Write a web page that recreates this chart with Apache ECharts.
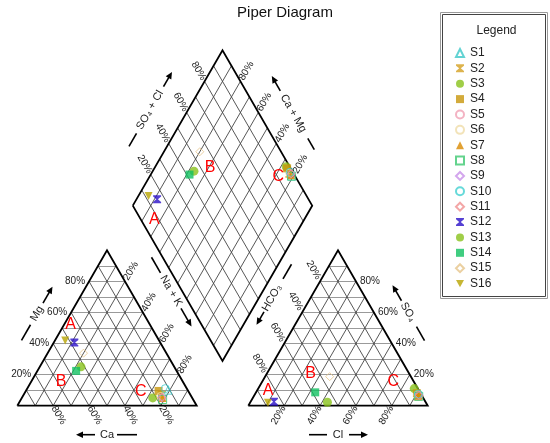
<!DOCTYPE html>
<html><head><meta charset="utf-8">
<script src="https://cdn.jsdelivr.net/npm/echarts@6/dist/echarts.min.js"></script>
<style>html,body{margin:0;padding:0;background:#fff}#c{width:550px;height:443px}</style>
</head><body><div id="c"></div>
<script>
// ---------------- data (percent of meq) ----------------
const samples = ['S1','S2','S3','S4','S5','S6','S7','S8','S9','S10','S11','S12','S13','S14','S15','S16'];
const caPct   = [11, 16, 22, 16.5, 17, 17, 16.5, 17, 16.5, 12, 17, 47.9, 52, 56, 46.2, 52.3];
const mgPct   = [10, 7, 5, 9.5, 5, 6, 5, 4, 5.5, 11, 5, 40.6, 25, 22.4, 33.8, 42];
const naKPct  = [79, 77, 73, 74, 78, 77, 78.5, 79, 78, 77, 78, 11.5, 23, 21.6, 20, 5.7];
const hco3Pct = [2, 2.5, 2, 2, 2, 2, 2, 2, 1.5, 1.5, 1.5, 84.4, 54.8, 58.4, 45.3, 88.1];
const clPct   = [91, 91.5, 87, 90, 92, 91, 91.5, 92, 91.5, 91, 92, 13, 43, 33, 36, 10];
const so4Pct  = [7, 6, 11, 8, 6, 7, 6.5, 6, 7, 7.5, 6.5, 2.6, 2.2, 8.6, 18.7, 1.9];
const tickPct = [20, 40, 60, 80];
const tickLabels = ['20%', '40%', '60%', '80%'];

// ---------------- styles ----------------
const HG = 'path://M0,0 L10,0 L10,1.6 L6,5 L10,8.4 L10,10 L0,10 L0,8.4 L4,5 L0,1.6 Z';
const DTRI = 'path://M0,0 L10,0 L5,9 Z';
const symbolOf = ['triangle', HG, 'circle', 'rect', 'circle', 'circle', 'triangle', 'rect', 'diamond', 'circle', 'diamond', HG, 'circle', 'rect', 'diamond', DTRI];
const colorOf = ['#3cc8c8', '#d4a020', '#88c21a', '#c8960a', '#f0a0b4', '#efdca8', '#d98a00', '#3cc870', '#c890e8', '#40d0d0', '#f09090', '#2a10c8', '#88c21a', '#10c060', '#e6c48a', '#b8a400'];
const hollowOf = [true, false, false, false, true, true, false, true, true, true, true, false, false, false, true, false];

// ---------------- geometry (layout) ----------------
const LX = 17.3, LY = 405.7, S = 179.4, H = S * Math.sqrt(3) / 2, RX = 248.3;
const BX = (LX + S + RX) / 2, BY = LY - (RX - LX - S) / 2 * Math.sqrt(3);
const DL = [BX - S / 2, BY - H], DT = [BX, BY - 2 * H], DR = [BX + S / 2, BY - H], DB = [BX, BY];
const U = [S / 2, -H], V = [S / 2, H];

function cat(mg, na) { return [LX + S * (na + mg / 2) / 100, LY - H * mg / 100]; }
function an(so4, cl) { return [RX + S * (cl + so4 / 2) / 100, LY - H * so4 / 100]; }
function dia(a, nk) { return [DL[0] + U[0] * a / 100 + V[0] * nk / 100, DL[1] + U[1] * a / 100 + V[1] * nk / 100]; }

function triGrid(ox, out) {
  for (let k = 1; k <= 9; k++) {
    const t = k / 10;
    out.h.push({ coords: [[ox + S * t / 2, LY - H * t], [ox + S - S * t / 2, LY - H * t]] });
    out.d.push({ coords: [[ox + S * t, LY], [ox + S * (t + (1 - t) / 2), LY - H * (1 - t)]] });
    out.d.push({ coords: [[ox + S * (1 - t), LY], [ox + S * (1 - t) / 2, LY - H * (1 - t)]] });
  }
}
const gridSegs = { h: [], d: [] };
triGrid(LX, gridSegs); triGrid(RX, gridSegs);
for (let k = 1; k <= 9; k++) {
  const t = k / 10;
  const p = [DL[0] + U[0] * t, DL[1] + U[1] * t];
  gridSegs.d.push({ coords: [p, [p[0] + V[0], p[1] + V[1]]] });
  const q = [DL[0] + V[0] * t, DL[1] + V[1] * t];
  gridSegs.d.push({ coords: [q, [q[0] + U[0], q[1] + U[1]]] });
}
const outlines = [
  { coords: [[LX, LY], [LX + S, LY], [LX + S / 2, LY - H], [LX, LY]] },
  { coords: [[RX, LY], [RX + S, LY], [RX + S / 2, LY - H], [RX, LY]] },
  { coords: [DL, DT, DR, DB, DL] }
];

// ---------------- series ----------------
const series = [
  { type: 'lines', coordinateSystem: 'cartesian2d', silent: true, z: 1, data: gridSegs.h, lineStyle: { color: '#9a9a9a', width: 1, opacity: 1 } },
  { type: 'lines', coordinateSystem: 'cartesian2d', silent: true, z: 1, data: gridSegs.d, lineStyle: { color: '#444', width: 0.9, opacity: 1 } },
  { type: 'lines', coordinateSystem: 'cartesian2d', silent: true, z: 2, polyline: true, data: outlines, lineStyle: { color: '#000', width: 1.8, opacity: 1 } }
];
samples.forEach((name, i) => {
  const tot = caPct[i] + mgPct[i] + naKPct[i];
  const totA = hco3Pct[i] + clPct[i] + so4Pct[i];
  const mg = mgPct[i] / tot * 100, na = naKPct[i] / tot * 100;
  const so4 = so4Pct[i] / totA * 100, cl = clPct[i] / totA * 100;
  series.push({
    name, type: 'scatter', z: 5 + i, symbol: symbolOf[i],
    symbolSize: symbolOf[i] === 'circle' && !hollowOf[i] ? 9 : 8,
    itemStyle: hollowOf[i] ? { color: 'rgba(255,255,255,0)', borderColor: colorOf[i], borderWidth: 1 } : { color: colorOf[i] },
    data: [cat(mg, na), an(so4, cl), dia(so4 + cl, na)]
  });
});

// ---------------- text / graphics ----------------
const FONT = 'Liberation Sans, Arial, sans-serif';
const g = [];
function txt(x, y, s, rot, align, size, color) {
  g.push({ type: 'text', x, y, rotation: rot || 0, silent: true, z: 20,
    style: { text: s, fill: color || '#222', font: (size || 10) + 'px ' + FONT, textAlign: align || 'center', textVerticalAlign: 'middle', verticalAlign: 'middle' } });
}
const R60 = Math.PI / 3;
tickPct.forEach((t, j) => {
  const lab = tickLabels[j];
  // cation triangle
  let p = cat(t, 0); txt(p[0] - 4, p[1], lab, 0, 'right');
  p = cat(0, 100 - t); txt(p[0] + 0.5 * 11, p[1] + 0.866 * 11, lab, -R60);
  p = cat(100 - t, t); txt(p[0] + 0.5 * 12, p[1] - 0.866 * 12, lab, R60);
  // anion triangle
  p = an(t, 100 - t); txt(p[0] + 4, p[1], lab, 0, 'left');
  p = an(100 - t, 0); txt(p[0] - 0.5 * 13, p[1] - 0.866 * 13, lab, -R60);
  p = an(0, t); txt(p[0] - 0.5 * 11, p[1] + 0.866 * 11, lab, R60);
  // diamond
  p = dia(t, 0); txt(p[0] - 0.5 * 12, p[1] - 0.866 * 12, lab, -R60);
  p = dia(100, 100 - t); txt(p[0] + 0.5 * 12, p[1] - 0.866 * 12, lab, R60);
});

function axisTitle(cx, cy, rot, s, seg, arrow) {
  const ch = [];
  ch.push({ type: 'line', shape: { x1: seg[0], y1: 0, x2: seg[1], y2: 0 }, style: { stroke: '#000', lineWidth: 1.6 } });
  const dir = Math.sign(arrow[1] - arrow[0]);
  ch.push({ type: 'line', shape: { x1: arrow[0], y1: 0, x2: arrow[1] - dir * 4, y2: 0 }, style: { stroke: '#000', lineWidth: 1.6 } });
  ch.push({ type: 'polygon', shape: { points: [[arrow[1], 0], [arrow[1] - dir * 7, -3.2], [arrow[1] - dir * 7, 3.2]] }, style: { fill: '#000' } });
  ch.push({ type: 'text', x: 0, y: 0, style: { text: s, fill: '#222', font: '11px ' + FONT, textAlign: 'center', textVerticalAlign: 'middle', verticalAlign: 'middle' } });
  g.push({ type: 'group', x: cx, y: cy, rotation: rot, silent: true, z: 20, children: ch });
}
axisTitle(37, 313.5, R60, 'Mg', [-31, -13], [12, 31]);
axisTitle(LX + S / 2, LY + 29, 0, 'Ca', [10, 30], [-12, -31]);
axisTitle(171, 291, -R60, 'Na + K', [-39, -21], [20, 41]);
axisTitle(RX + S / 2, LY + 29, 0, 'Cl', [-29, -11], [11, 30]);
axisTitle(408, 312, -R60, 'SO\u2084', [17, 33], [-13, -31]);
axisTitle(272, 298, R60, 'HCO\u2083', [22, 39], [-16, -31]);
axisTitle(150, 110, R60, 'SO\u2084 + Cl', [-42, -27], [27, 44]);
axisTitle(293.3, 113.3, -R60, 'Ca + Mg', [29, 42], [-26, -43]);

// group labels
[[70.7, 325, 'A'], [61, 381.7, 'B'], [140.7, 391.7, 'C'],
 [268, 391, 'A'], [310.7, 373.3, 'B'], [393.3, 382, 'C'],
 [154.3, 220, 'A'], [210, 167.5, 'B'], [278.3, 176.7, 'C']].forEach(a => txt(a[0], a[1], a[2], 0, 'center', 16, '#ff0000'));

// title
txt(285, 13, 'Piper Diagram', 0, 'center', 15, '#111');

// legend frame
g.push({ type: 'rect', silent: true, z: 0, shape: { x: 440.5, y: 12.5, width: 107, height: 286 }, style: { fill: '#fff', stroke: '#9a9a9a', lineWidth: 1 } });
g.push({ type: 'rect', silent: true, z: 0, shape: { x: 442.5, y: 14.5, width: 103, height: 282 }, style: { fill: 'none', stroke: '#444', lineWidth: 1 } });
txt(496.5, 30.5, 'Legend', 0, 'center', 12, '#222');

const chart = echarts.init(document.getElementById('c'), null, { renderer: 'canvas' });
chart.setOption({
  animation: false,
  backgroundColor: '#fff',
  grid: { left: 0, right: 0, top: 0, bottom: 0 },
  xAxis: { type: 'value', min: 0, max: 550, show: false },
  yAxis: { type: 'value', min: 0, max: 443, inverse: true, show: false },
  legend: {
    orient: 'vertical', left: 455, top: 46.5, padding: 0, itemWidth: 8, itemHeight: 8, itemGap: 2.37,
    selectedMode: false, data: samples,
    textStyle: { fontSize: 12, lineHeight: 13, color: '#222', fontFamily: FONT, padding: [0, 0, 0, 1] }
  },
  graphic: { elements: g },
  series
});
</script></body></html>
